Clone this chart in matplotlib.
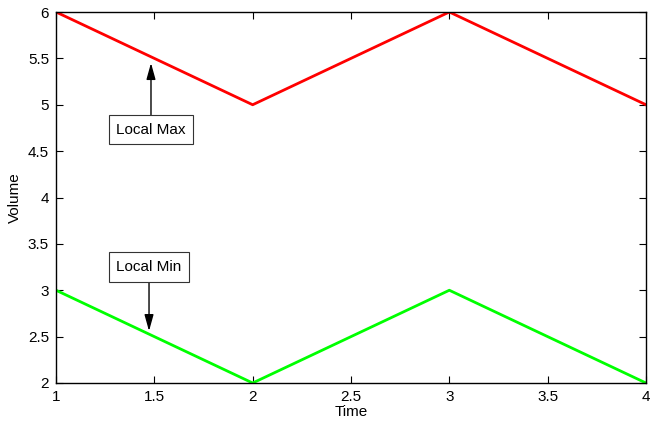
import matplotlib
matplotlib.use("Agg")
import matplotlib.pyplot as plt

plt.rcParams['font.family'] = ['Liberation Sans', 'DejaVu Sans']

time = [1, 2, 3, 4]
local_max = [6, 5, 6, 5]
local_min = [3, 2, 3, 2]

fig = plt.figure(figsize=(6.5, 4.21), dpi=100)
ax = fig.add_axes([56/650, 38/421, 590/650, 371/421])

ax.plot(time, local_max, color=(1, 0, 0), lw=2)
ax.plot(time, local_min, color=(0, 1, 0), lw=2)

ax.set_xlim(1, 4)
ax.set_ylim(2, 6)
ax.set_xticks([1, 1.5, 2, 2.5, 3, 3.5, 4])
ax.set_xticklabels(['1', '1.5', '2', '2.5', '3', '3.5', '4'])
ax.set_yticks([2, 2.5, 3, 3.5, 4, 4.5, 5, 5.5, 6])
ax.set_yticklabels(['2', '2.5', '3', '3.5', '4', '4.5', '5', '5.5', '6'])
ax.tick_params(direction='in', top=True, right=True, length=5, width=0.8,
               labelsize=11, pad=5)
for s in ax.spines.values():
    s.set_linewidth(1)
ax.set_xlabel('Time', fontsize=11, labelpad=1)
ax.set_ylabel('Volume', fontsize=11, labelpad=4)

box = dict(boxstyle='square,pad=0.5', fc='w', ec='#333333', lw=0.8)
arrow = dict(arrowstyle='-|>,head_length=0.9,head_width=0.25', color='k', lw=1,
             shrinkA=0, shrinkB=0)
ax.annotate('Local Max', xy=(1.483, 5.45), xytext=(1.483, 4.73),
            ha='center', va='center', fontsize=11, bbox=box, arrowprops=arrow)
ax.annotate('Local Min', xy=(1.473, 2.56), xytext=(1.473, 3.25),
            ha='center', va='center', fontsize=11, bbox=box, arrowprops=arrow)

fig.savefig('out.png', dpi=100)
